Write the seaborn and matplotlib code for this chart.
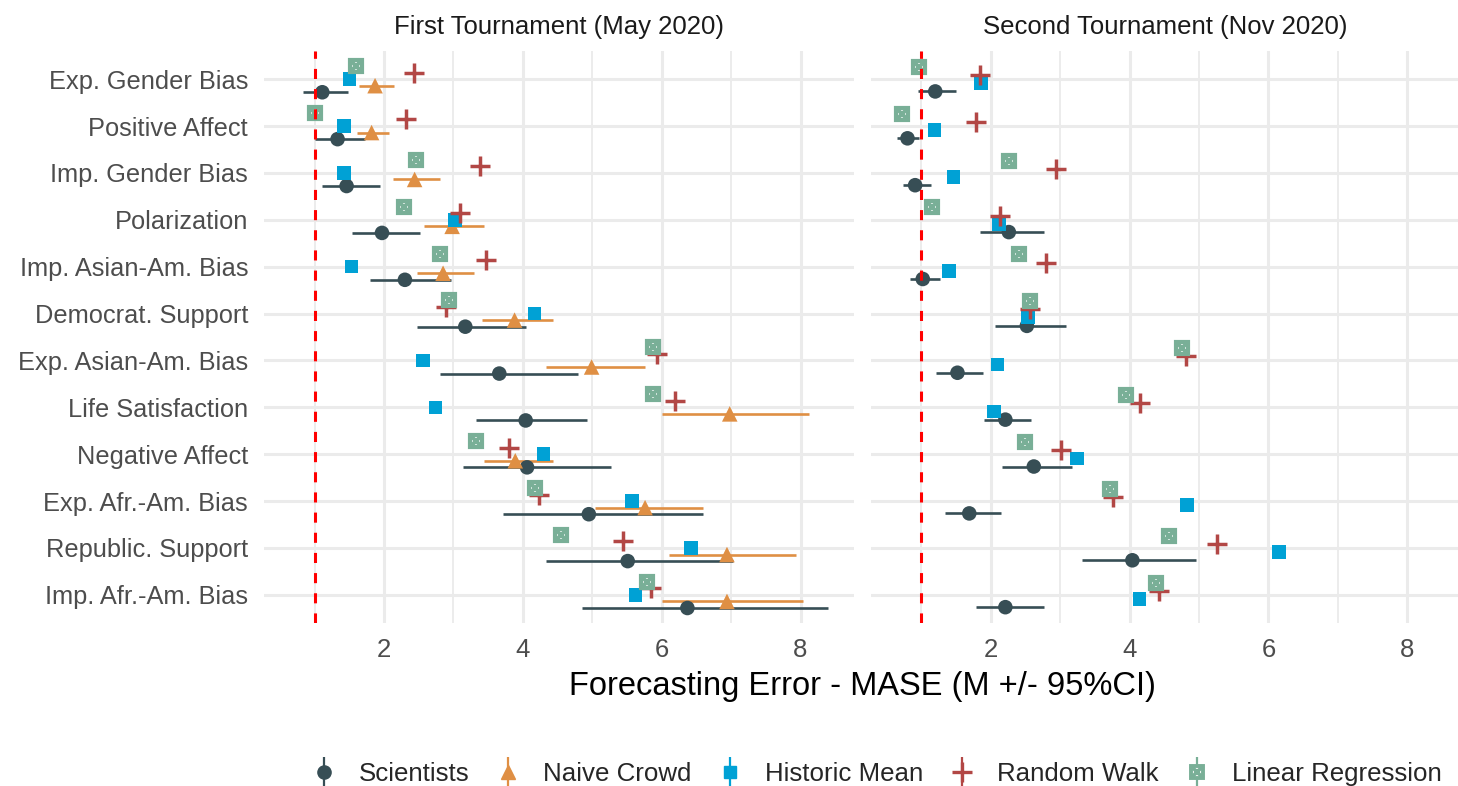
import numpy as np
import matplotlib
matplotlib.use("Agg")
import matplotlib.pyplot as plt
from matplotlib.lines import Line2D
from matplotlib.legend_handler import HandlerTuple
import seaborn as sns

# measures, top to bottom
measures = ["Exp. Gender Bias", "Positive Affect", "Imp. Gender Bias", "Polarization",
            "Imp. Asian-Am. Bias", "Democrat. Support", "Exp. Asian-Am. Bias",
            "Life Satisfaction", "Negative Affect", "Exp. Afr.-Am. Bias",
            "Republic. Support", "Imp. Afr.-Am. Bias"]

# first tournament (May 2020)
sci1 = [1.11, 1.33, 1.46, 1.97, 2.30, 3.17, 3.66, 4.04, 4.06, 4.95, 5.51, 6.37]
sci1_lo = [0.83, 1.01, 1.10, 1.54, 1.79, 2.48, 2.80, 3.33, 3.13, 3.72, 4.33, 4.85]
sci1_hi = [1.48, 1.72, 1.94, 2.52, 2.97, 4.04, 4.79, 4.92, 5.27, 6.60, 7.03, 8.39]
crowd1 = [1.87, 1.82, 2.44, 2.98, 2.85, 3.88, 4.99, 6.98, 3.89, 5.76, 6.94, 6.94]
crowd1_lo = [1.64, 1.61, 2.13, 2.57, 2.47, 3.41, 4.33, 6.00, 3.44, 5.04, 6.10, 6.00]
crowd1_hi = [2.15, 2.07, 2.80, 3.44, 3.29, 4.44, 5.76, 8.12, 4.43, 6.60, 7.94, 8.03]
hist1 = [1.50, 1.42, 1.42, 3.02, 1.53, 4.17, 2.56, 2.74, 4.30, 5.57, 6.42, 5.62]
rw1 = [2.43, 2.31, 3.38, 3.10, 3.47, 2.89, 5.93, 6.19, 3.80, 4.23, 5.44, 5.85]
lr1 = [1.59, 1.01, 2.46, 2.28, 2.80, 2.93, 5.88, 5.88, 3.33, 4.18, 4.55, 5.79]

# second tournament (Nov 2020)
sci2 = [1.20, 0.80, 0.91, 2.26, 1.02, 2.52, 1.52, 2.21, 2.62, 1.69, 4.04, 2.21]
sci2_lo = [0.95, 0.65, 0.73, 1.85, 0.83, 2.06, 1.21, 1.90, 2.16, 1.34, 3.31, 1.78]
sci2_hi = [1.50, 0.97, 1.14, 2.76, 1.27, 3.08, 1.89, 2.58, 3.17, 2.14, 4.95, 2.77]
hist2 = [1.86, 1.19, 1.46, 2.12, 1.40, 2.54, 2.10, 2.05, 3.24, 4.83, 6.15, 4.14]
rw2 = [1.85, 1.79, 2.94, 2.13, 2.79, 2.57, 4.81, 4.15, 3.01, 3.76, 5.26, 4.43]
lr2 = [0.97, 0.72, 2.26, 1.15, 2.41, 2.57, 4.76, 3.95, 2.50, 3.72, 4.57, 4.38]

C_SCI = "#374E55"
C_CROWD = "#DF8F44"
C_HIST = "#00A1D5"
C_RW = "#B24745"
C_LR = "#79AF97"

sns.set_theme(style="whitegrid")
plt.rcParams['font.family'] = ['Liberation Sans', 'DejaVu Sans']

fig = plt.figure(figsize=(14.58, 7.86), dpi=100)
ax1 = fig.add_axes([0.18107, 0.20738, 0.40466, 0.72774])
ax2 = fig.add_axes([0.59719, 0.20738, 0.40466, 0.72774])

ypos = np.arange(len(measures))


def draw_lr(ax, x, y, ms=9.0):
    ax.plot(x, y, ls='none', marker='s', ms=ms, mfc='white', mec=C_LR, mew=3.0, zorder=6)
    ax.plot(x, y, ls='none', marker='x', ms=ms - 0.5, mec=C_LR, mew=2.8, zorder=7)


def panel(ax, title, sci, lo, hi, hist, rw, lr, crowd=None, clo=None, chi=None):
    n = 5 if crowd is not None else 4
    w = 0.7
    offs = -w / 2 + w / (2 * n) + w / n * np.arange(n)
    y_lr, y_rw, y_hist = ypos + offs[0], ypos + offs[1], ypos + offs[2]
    y_sci = ypos + offs[-1]

    # scientists
    ax.hlines(y_sci, lo, hi, color=C_SCI, lw=1.9, zorder=3)
    sns.scatterplot(x=sci, y=y_sci, ax=ax, color=C_SCI, marker='o', s=110,
                    edgecolor='none', zorder=4, legend=False)
    # naive crowd
    if crowd is not None:
        y_cr = ypos + offs[3]
        ax.hlines(y_cr, clo, chi, color=C_CROWD, lw=1.9, zorder=3)
        sns.scatterplot(x=crowd, y=y_cr, ax=ax, color=C_CROWD, marker='^', s=125,
                        edgecolor='none', zorder=4, legend=False)
    # historic mean
    sns.scatterplot(x=hist, y=y_hist, ax=ax, color=C_HIST, marker='s', s=95,
                    edgecolor='none', zorder=5, legend=False)
    # random walk
    ax.plot(rw, y_rw, ls='none', marker='+', ms=15, mew=2.5, color=C_RW, zorder=5)
    # linear regression
    draw_lr(ax, lr, y_lr)

    ax.axvline(1, color='red', lw=2.2, ls=(0, (3.3, 3.3)), zorder=8)

    ax.set_xlim(0.27, 8.77)
    ax.set_ylim(11.6, -0.6)
    ax.set_xticks([2, 4, 6, 8])
    ax.set_xticks([1, 3, 5, 7], minor=True)
    ax.set_yticks(ypos)
    ax.set_yticklabels(measures)
    ax.grid(which='major', color='#EBEBEB', lw=2.2)
    ax.grid(which='minor', axis='x', color='#EBEBEB', lw=1.3)
    ax.set_axisbelow(True)
    for s in ax.spines.values():
        s.set_visible(False)
    ax.tick_params(which='both', length=0)
    ax.tick_params(axis='x', labelsize=18.5, labelcolor='#4D4D4D', pad=10.8)
    ax.tick_params(axis='y', labelsize=18.3, labelcolor='#4D4D4D', pad=11.5)
    ax.set_xlabel('')
    ax.set_ylabel('')
    ax.text(0.5, 1.0297, title, transform=ax.transAxes, ha='center', va='baseline',
            fontsize=18.5, color='#1A1A1A')


panel(ax1, "First Tournament (May 2020)", sci1, sci1_lo, sci1_hi, hist1, rw1, lr1,
      crowd1, crowd1_lo, crowd1_hi)
panel(ax2, "Second Tournament (Nov 2020)", sci2, sci2_lo, sci2_hi, hist2, rw2, lr2)
ax2.tick_params(axis='y', labelleft=False)

fig.text(0.5916, 0.1158, "Forecasting Error - MASE (M +/- 95%CI)", ha='center',
         va='baseline', fontsize=23.5, color='black')

# legend keys: marker with a vertical range line
def vline(c):
    return Line2D([], [], ls='none', marker='|', ms=22, mew=1.6, color=c)

handles = [
    (vline(C_SCI), Line2D([], [], ls='none', marker='o', ms=9.5, color=C_SCI)),
    (vline(C_CROWD), Line2D([], [], ls='none', marker='^', ms=10.5, color=C_CROWD)),
    (vline(C_HIST), Line2D([], [], ls='none', marker='s', ms=9, color=C_HIST)),
    (vline(C_RW), Line2D([], [], ls='none', marker='+', ms=14, mew=2.4, color=C_RW)),
    (vline(C_LR),
     Line2D([], [], ls='none', marker='s', ms=8.5, mfc='white', mec=C_LR, mew=2.8),
     Line2D([], [], ls='none', marker='x', ms=8, mec=C_LR, mew=2.6)),
]
labels = ["Scientists", "Naive Crowd", "Historic Mean", "Random Walk", "Linear Regression"]
fig.legend(handles, labels, loc='center', bbox_to_anchor=(0.6012, 0.015), ncol=5,
           frameon=False, fontsize=18.6, handlelength=1.0, handletextpad=0.85,
           columnspacing=1.0, handler_map={tuple: HandlerTuple(ndivide=1, pad=0)})

fig.savefig('out.png', dpi=100)
